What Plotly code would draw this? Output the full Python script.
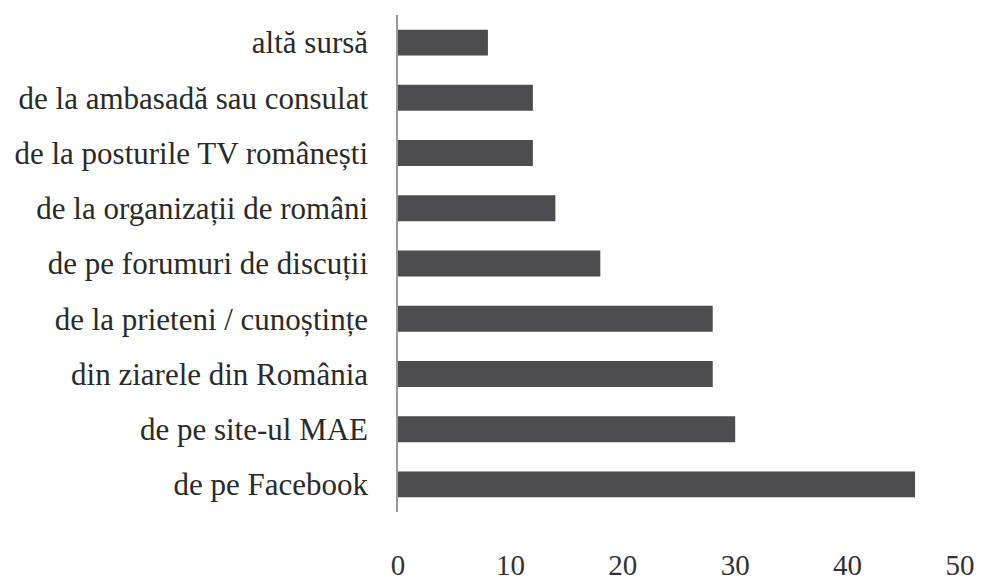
import plotly.graph_objects as go

categories = [
    "de pe Facebook",
    "de pe site-ul MAE",
    "din ziarele din România",
    "de la prieteni / cunoștințe",
    "de pe forumuri de discuții",
    "de la organizații de români",
    "de la posturile TV românești",
    "de la ambasadă sau consulat",
    "altă sursă",
]
values = [46, 30, 28, 28, 18, 14, 12, 12, 8]
tick_vals = [0, 10, 20, 30, 40, 50]

fig = go.Figure(go.Bar(
    x=values, y=categories, orientation="h",
    marker=dict(color="#4d4d4f", line=dict(width=0)),
))
fig.update_layout(
    width=975, height=575,
    margin=dict(l=390, r=23, t=7, b=71, autoexpand=False),
    paper_bgcolor="white", plot_bgcolor="white",
    bargap=0.53, showlegend=False,
    font=dict(family="Liberation Serif, serif", color="#2a2a2a"),
)
fig.update_xaxes(
    range=[0, 50], tickvals=tick_vals, showgrid=False, zeroline=False,
    showline=False, ticks="", ticklabelstandoff=33,
    tickfont=dict(size=29, family="Liberation Serif, serif", color="#333"),
)
fig.update_yaxes(
    showgrid=False, zeroline=False, showline=True, linecolor="#9a9a9a", linewidth=1.5,
    ticks="", ticklabelstandoff=22,
    tickfont=dict(size=31, family="Liberation Serif, serif", color="#2a2a2a"),
)
fig.write_html("out.html")
